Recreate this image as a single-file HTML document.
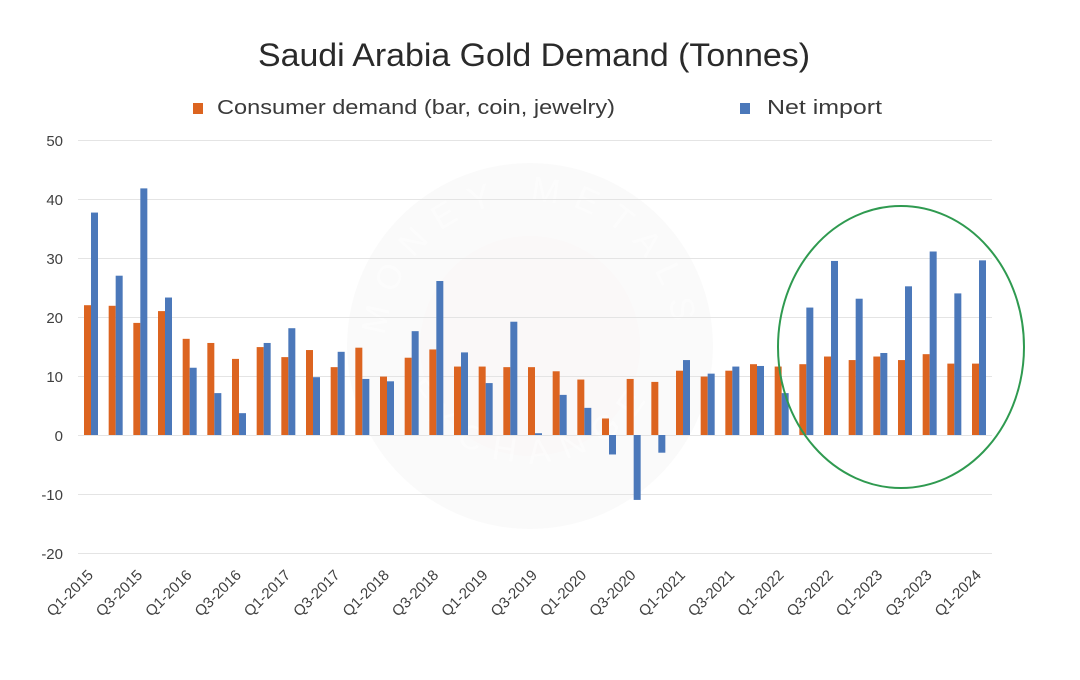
<!DOCTYPE html>
<html>
<head>
<meta charset="utf-8">
<style>
  html,body{margin:0;padding:0;background:#ffffff;}
  svg{display:block;}
  text{font-family:"Liberation Sans", sans-serif;}
</style>
</head>
<body>
<svg width="1080" height="680" viewBox="0 0 1080 680" xmlns="http://www.w3.org/2000/svg">
  <rect x="0" y="0" width="1080" height="680" fill="#ffffff"/>

  <!-- watermark -->
  <defs>
    <path id="arcTop" d="M 385 346 A 145 145 0 0 1 675 346"/>
    <path id="arcBot" d="M 395 360 A 140 140 0 0 0 665 360"/>
  </defs>
  <circle cx="530" cy="346" r="183" fill="#000" fill-opacity="0.018"/>
  <circle cx="530" cy="346" r="110" fill="#e88" fill-opacity="0.02"/>
  <text font-size="34" fill="#ffffff" fill-opacity="0.45" letter-spacing="14"><textPath href="#arcTop" startOffset="50%" text-anchor="middle">MONEY METALS</textPath></text>
  <text font-size="34" fill="#ffffff" fill-opacity="0.45" letter-spacing="14"><textPath href="#arcBot" startOffset="50%" text-anchor="middle" side="right">EXCHANGE</textPath></text>

  <!-- title -->
  <text x="258" y="66" font-size="32" fill="#2a2a2a" textLength="552" lengthAdjust="spacingAndGlyphs">Saudi Arabia Gold Demand (Tonnes)</text>

  <!-- legend -->
  <rect x="193" y="103" width="10" height="11" fill="#dc6420"/>
  <text x="217" y="114" font-size="20" fill="#3a3a3a" textLength="398" lengthAdjust="spacingAndGlyphs">Consumer demand (bar, coin, jewelry)</text>
  <rect x="740" y="103" width="10" height="11" fill="#4b78ba"/>
  <text x="767" y="114" font-size="20" fill="#3a3a3a" textLength="115" lengthAdjust="spacingAndGlyphs">Net import</text>

  <!-- gridlines -->
  <g stroke="#e4e4e4" stroke-width="1">
    <line x1="78" y1="140.5" x2="992" y2="140.5"/>
    <line x1="78" y1="199.5" x2="992" y2="199.5"/>
    <line x1="78" y1="258.5" x2="992" y2="258.5"/>
    <line x1="78" y1="317.5" x2="992" y2="317.5"/>
    <line x1="78" y1="376.5" x2="992" y2="376.5"/>
    <line x1="78" y1="435.5" x2="992" y2="435.5"/>
    <line x1="78" y1="494.5" x2="992" y2="494.5"/>
    <line x1="78" y1="553.5" x2="992" y2="553.5"/>
  </g>

  <!-- y labels -->
  <g font-size="15" fill="#404040" text-anchor="end">
    <text x="63" y="146">50</text>
    <text x="63" y="205">40</text>
    <text x="63" y="264">30</text>
    <text x="63" y="323">20</text>
    <text x="63" y="382">10</text>
    <text x="63" y="441">0</text>
    <text x="63" y="500">-10</text>
    <text x="63" y="559">-20</text>
  </g>

  <!-- orange bars -->
  <g fill="#dc6420">
    <rect x="84.00" y="305.20" width="7" height="129.80"/>
    <rect x="108.67" y="305.79" width="7" height="129.21"/>
    <rect x="133.33" y="322.90" width="7" height="112.10"/>
    <rect x="158.00" y="311.10" width="7" height="123.90"/>
    <rect x="182.67" y="338.83" width="7" height="96.17"/>
    <rect x="207.33" y="342.96" width="7" height="92.04"/>
    <rect x="232.00" y="358.89" width="7" height="76.11"/>
    <rect x="256.67" y="347.09" width="7" height="87.91"/>
    <rect x="281.33" y="357.12" width="7" height="77.88"/>
    <rect x="306.00" y="350.04" width="7" height="84.96"/>
    <rect x="330.67" y="367.15" width="7" height="67.85"/>
    <rect x="355.33" y="347.68" width="7" height="87.32"/>
    <rect x="380.00" y="376.59" width="7" height="58.41"/>
    <rect x="404.67" y="357.71" width="7" height="77.29"/>
    <rect x="429.33" y="349.45" width="7" height="85.55"/>
    <rect x="454.00" y="366.56" width="7" height="68.44"/>
    <rect x="478.67" y="366.56" width="7" height="68.44"/>
    <rect x="503.33" y="367.15" width="7" height="67.85"/>
    <rect x="528.00" y="367.15" width="7" height="67.85"/>
    <rect x="552.67" y="371.28" width="7" height="63.72"/>
    <rect x="577.33" y="379.54" width="7" height="55.46"/>
    <rect x="602.00" y="418.48" width="7" height="16.52"/>
    <rect x="626.67" y="378.95" width="7" height="56.05"/>
    <rect x="651.33" y="381.90" width="7" height="53.10"/>
    <rect x="676.00" y="370.69" width="7" height="64.31"/>
    <rect x="700.67" y="376.59" width="7" height="58.41"/>
    <rect x="725.33" y="370.69" width="7" height="64.31"/>
    <rect x="750.00" y="364.20" width="7" height="70.80"/>
    <rect x="774.67" y="366.56" width="7" height="68.44"/>
    <rect x="799.33" y="364.20" width="7" height="70.80"/>
    <rect x="824.00" y="356.53" width="7" height="78.47"/>
    <rect x="848.67" y="360.07" width="7" height="74.93"/>
    <rect x="873.33" y="356.53" width="7" height="78.47"/>
    <rect x="898.00" y="360.07" width="7" height="74.93"/>
    <rect x="922.67" y="354.17" width="7" height="80.83"/>
    <rect x="947.33" y="363.61" width="7" height="71.39"/>
    <rect x="972.00" y="363.61" width="7" height="71.39"/>
  </g>

  <!-- blue bars -->
  <g fill="#4b78ba">
    <rect x="91.00" y="212.57" width="7" height="222.43"/>
    <rect x="115.67" y="275.70" width="7" height="159.30"/>
    <rect x="140.33" y="188.38" width="7" height="246.62"/>
    <rect x="165.00" y="297.53" width="7" height="137.47"/>
    <rect x="189.67" y="367.74" width="7" height="67.26"/>
    <rect x="214.33" y="393.11" width="7" height="41.89"/>
    <rect x="239.00" y="413.17" width="7" height="21.83"/>
    <rect x="263.67" y="342.96" width="7" height="92.04"/>
    <rect x="288.33" y="328.21" width="7" height="106.79"/>
    <rect x="313.00" y="377.18" width="7" height="57.82"/>
    <rect x="337.67" y="351.81" width="7" height="83.19"/>
    <rect x="362.33" y="378.95" width="7" height="56.05"/>
    <rect x="387.00" y="381.31" width="7" height="53.69"/>
    <rect x="411.67" y="331.16" width="7" height="103.84"/>
    <rect x="436.33" y="281.01" width="7" height="153.99"/>
    <rect x="461.00" y="352.40" width="7" height="82.60"/>
    <rect x="485.67" y="383.08" width="7" height="51.92"/>
    <rect x="510.33" y="321.72" width="7" height="113.28"/>
    <rect x="535.00" y="433.23" width="7" height="1.77"/>
    <rect x="559.67" y="394.88" width="7" height="40.12"/>
    <rect x="584.33" y="407.86" width="7" height="27.14"/>
    <rect x="609.00" y="435.00" width="7" height="19.47"/>
    <rect x="633.67" y="435.00" width="7" height="64.90"/>
    <rect x="658.33" y="435.00" width="7" height="17.70"/>
    <rect x="683.00" y="360.07" width="7" height="74.93"/>
    <rect x="707.67" y="373.64" width="7" height="61.36"/>
    <rect x="732.33" y="366.56" width="7" height="68.44"/>
    <rect x="757.00" y="365.97" width="7" height="69.03"/>
    <rect x="781.67" y="393.11" width="7" height="41.89"/>
    <rect x="806.33" y="307.56" width="7" height="127.44"/>
    <rect x="831.00" y="260.95" width="7" height="174.05"/>
    <rect x="855.67" y="298.71" width="7" height="136.29"/>
    <rect x="880.33" y="352.99" width="7" height="82.01"/>
    <rect x="905.00" y="286.32" width="7" height="148.68"/>
    <rect x="929.67" y="251.51" width="7" height="183.49"/>
    <rect x="954.33" y="293.40" width="7" height="141.60"/>
    <rect x="979.00" y="260.36" width="7" height="174.64"/>
  </g>

  <!-- x labels -->
  <g font-size="15" fill="#404040" text-anchor="end">
    <text transform="translate(94,576) rotate(-45)">Q1-2015</text>
    <text transform="translate(143.33,576) rotate(-45)">Q3-2015</text>
    <text transform="translate(192.67,576) rotate(-45)">Q1-2016</text>
    <text transform="translate(242,576) rotate(-45)">Q3-2016</text>
    <text transform="translate(291.33,576) rotate(-45)">Q1-2017</text>
    <text transform="translate(340.67,576) rotate(-45)">Q3-2017</text>
    <text transform="translate(390,576) rotate(-45)">Q1-2018</text>
    <text transform="translate(439.33,576) rotate(-45)">Q3-2018</text>
    <text transform="translate(488.67,576) rotate(-45)">Q1-2019</text>
    <text transform="translate(538,576) rotate(-45)">Q3-2019</text>
    <text transform="translate(587.33,576) rotate(-45)">Q1-2020</text>
    <text transform="translate(636.67,576) rotate(-45)">Q3-2020</text>
    <text transform="translate(686,576) rotate(-45)">Q1-2021</text>
    <text transform="translate(735.33,576) rotate(-45)">Q3-2021</text>
    <text transform="translate(784.67,576) rotate(-45)">Q1-2022</text>
    <text transform="translate(834,576) rotate(-45)">Q3-2022</text>
    <text transform="translate(883.33,576) rotate(-45)">Q1-2023</text>
    <text transform="translate(932.67,576) rotate(-45)">Q3-2023</text>
    <text transform="translate(982,576) rotate(-45)">Q1-2024</text>
  </g>

  <!-- highlight ellipse -->
  <ellipse cx="901" cy="347" rx="123" ry="141" fill="none" stroke="#2f9a50" stroke-width="2"/>
</svg>
</body>
</html>
